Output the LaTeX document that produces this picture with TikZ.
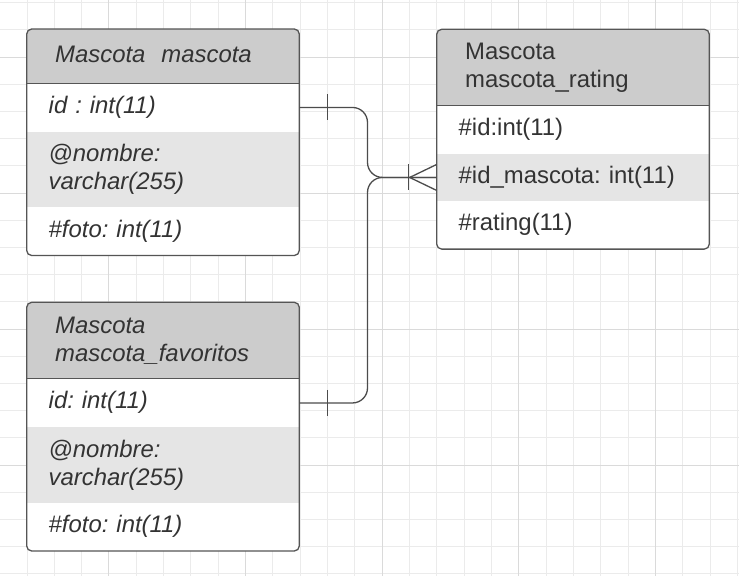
\documentclass[tikz,border=0pt]{standalone}
\usepackage{fontspec}
\setmainfont{Liberation Sans}
\frenchspacing
\usetikzlibrary{positioning,backgrounds}

\definecolor{hdrgray}{HTML}{CCCCCC}
\definecolor{rowgray}{HTML}{E5E5E5}
\definecolor{edgegray}{HTML}{555555}
\definecolor{txtgray}{HTML}{333333}
\definecolor{gridminor}{HTML}{EBEBEB}
\definecolor{gridmajor}{HTML}{DADADA}

\tikzset{
  cell/.style={inner xsep=22pt, inner ysep=0pt, outer sep=0pt, text width=228.6pt,
    minimum width=272.6pt, align=left, text=txtgray},
  fld/.style={cell, minimum height=48.3pt, text height=17pt, text depth=5pt},
  fldtwo/.style={cell, minimum height=75.6pt},
  hdr/.style={cell, inner xsep=28.5pt, text width=215.6pt, minimum height=54.3pt,
    text height=17pt, text depth=5pt},
  hdrtwo/.style={cell, inner xsep=28.5pt, text width=215.6pt, minimum height=76.5pt},
  edge/.style={draw=edgegray, line width=1.3pt},
  conn/.style={draw=edgegray!90!black, line width=1.3pt}
}

\begin{document}
\begin{tikzpicture}[x=1pt, y=-1pt, font=\fontsize{23.9}{28}\selectfont]
    \useasboundingbox (0,0) rectangle (739,576);
    \begin{scope}[on background layer]
        \fill[white] (0,0) rectangle (739,576);
        \foreach \i in {0,...,26}
            \draw[gridminor, line width=1pt] ({27+27.33*\i},0) -- ({27+27.33*\i},576);
        \foreach \j in {0,...,21}
            \draw[gridminor, line width=1pt] (0,{2.7+27.2*\j}) -- (739,{2.7+27.2*\j});
        \foreach \i in {3,8,...,23}
            \draw[gridmajor, line width=1pt] ({27+27.33*\i},0) -- ({27+27.33*\i},576);
        \foreach \j in {2,7,...,17}
            \draw[gridmajor, line width=1pt] (0,{2.7+27.2*\j}) -- (739,{2.7+27.2*\j});
    \end{scope}

    % mascota
    \begin{scope}[font=\fontsize{23.9}{28}\selectfont\itshape]
        \node [hdr, anchor=north west] (m-h) at (26.7,29) {Mascota\ \ mascota};
        \node [fld, below=0pt of m-h] (m-a) {id : int(11)};
        \node [fldtwo, below=0pt of m-a] (m-b) {@nombre:\\varchar(255)};
        \node [fld, below=0pt of m-b] (m-c) {\#foto: int(11)};
    \end{scope}

    % mascota_rating
    \node [hdrtwo, anchor=north west] (r-h) at (436.7,29.3) {Mascota\\mascota\_rating};
    \node [fld, below=0pt of r-h] (r-a) {\#id:int(11)};
    \node [fld, minimum height=46.7pt, below=0pt of r-a] (r-b) {\#id\_mascota: int(11)};
    \node [fld, below=0pt of r-b] (r-c) {\#rating(11)};

    % mascota_favoritos
    \begin{scope}[font=\fontsize{23.9}{28}\selectfont\itshape]
        \node [hdrtwo, anchor=north west] (f-h) at (26.7,302.3) {Mascota\\mascota\_favoritos};
        \node [fld, below=0pt of f-h] (f-a) {id: int(11)};
        \node [fldtwo, below=0pt of f-a] (f-b) {@nombre:\\varchar(255)};
        \node [fld, below=0pt of f-b] (f-c) {\#foto: int(11)};
    \end{scope}

    \begin{scope}[on background layer]
        \foreach \t in {m,r,f}
        {
            \begin{scope}
                \clip[rounded corners=5pt] (\t-h.north west) rectangle (\t-c.south east);
                \fill[white] (\t-h.north west) rectangle (\t-c.south east);
                \fill[hdrgray] (\t-h.north west) rectangle (\t-h.south east);
                \fill[rowgray] (\t-b.north west) rectangle (\t-b.south east);
            \end{scope}
        }
    \end{scope}
    \foreach \t in {m,r,f}
    {
        \draw[edge, rounded corners=5pt] (\t-h.north west) rectangle (\t-c.south east);
        \draw[edge] (\t-h.south west) -- (\t-h.south east);
    }

    \coordinate (jn) at ([xshift=-69.2pt]r-b.west);
    \draw[conn, rounded corners=15pt] (m-a.east) -| (jn) -- (r-b.west);
    \draw[conn, rounded corners=15pt] (f-a.east) -| (jn) -- (r-b.west);

    \draw[conn] ([xshift=28.4pt, yshift=13pt]m-a.east) -- ([xshift=28.4pt, yshift=-13pt]m-a.east);
    \draw[conn] ([xshift=28.4pt, yshift=13pt]f-a.east) -- ([xshift=28.4pt, yshift=-13pt]f-a.east);
    \draw[conn] ([xshift=-28.4pt, yshift=13pt]r-b.west) -- ([xshift=-28.4pt, yshift=-13pt]r-b.west);
    \draw[conn] ([yshift=13pt]r-b.west) -- ([xshift=-27pt]r-b.west) -- ([yshift=-13pt]r-b.west);
\end{tikzpicture}
\end{document}
